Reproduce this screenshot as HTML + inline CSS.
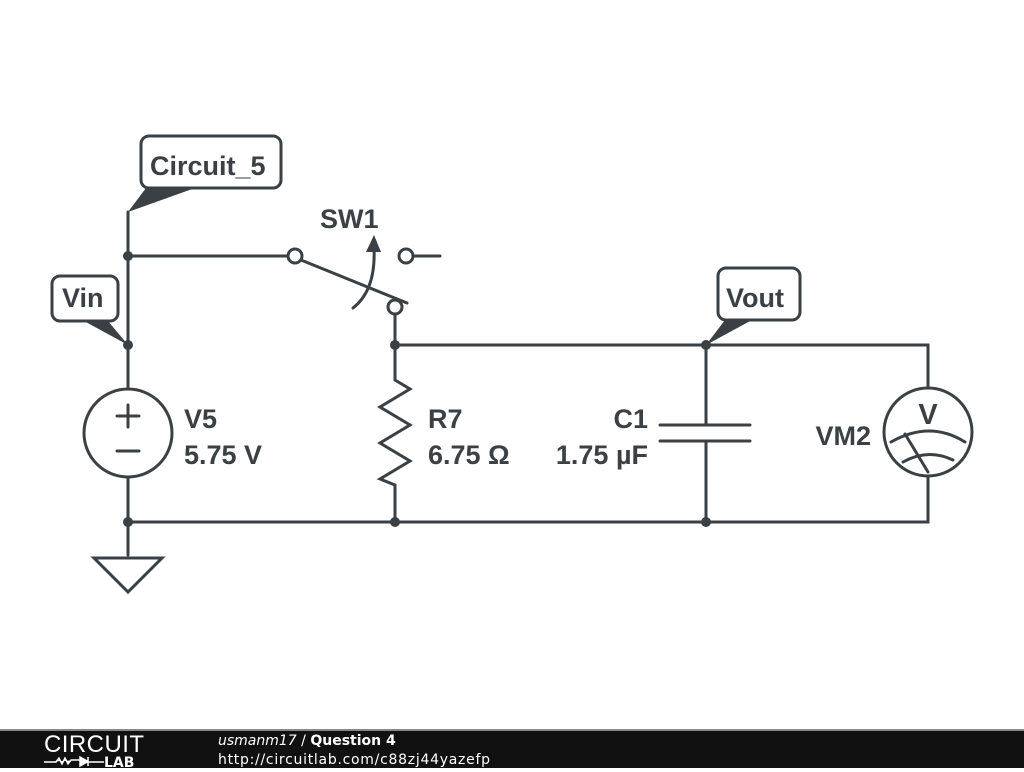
<!DOCTYPE html>
<html><head><style>
body{margin:0;width:1024px;height:768px;background:#fff;overflow:hidden;font-family:"DejaVu Sans","Liberation Sans",sans-serif}
</style></head><body>
<svg width="1024" height="768" viewBox="0 0 1024 768" xmlns="http://www.w3.org/2000/svg">
<g stroke="#3a4044" stroke-width="3" fill="none" stroke-linecap="round">
<path d="M128 212V389M128 477V555M128 256H288"/>
<circle cx="295" cy="256" r="7" fill="#fff"/>
<circle cx="406" cy="256" r="7" fill="#fff"/>
<path d="M413 256H440"/>
<path d="M301 260L407 303"/>
<circle cx="395" cy="307" r="7" fill="#fff"/>
<path d="M395 314V380L410 389L380 407L410 425L380 443L410 461L380 479L395 485V522"/>
<path d="M395 345H928V388M928 476V522H128"/>
<path d="M706 345V425M706 441V522M660 425H750M660 441H750"/>
<circle cx="128" cy="433" r="44"/>
<path d="M117 416H139M128 405V427M117 451H139"/>
<circle cx="928" cy="432" r="44"/>
<path d="M891 442Q930 420 965 442M903 462Q928 448 953 460M905 434L928 472"/>
<path d="M94 558H162L128 592Z"/>
<path d="M353 308Q376 290 374 248"/>
<path d="M149 136h124a8 8 0 0 1 8 8v36a8 8 0 0 1-8 8H149a8 8 0 0 1-8-8v-36a8 8 0 0 1 8-8z" fill="#fff"/>
<path d="M60 276h50a8 8 0 0 1 8 8v29a8 8 0 0 1-8 8H60a8 8 0 0 1-8-8v-29a8 8 0 0 1 8-8z" fill="#fff"/>
<path d="M726 268h66a8 8 0 0 1 8 8v36a8 8 0 0 1-8 8H726a8 8 0 0 1-8-8v-36a8 8 0 0 1 8-8z" fill="#fff"/>
</g>
<g fill="#3a4044">
<path d="M146 188L195 188L128 212Z"/>
<path d="M366 252L374 235L381 252Z"/>
<path d="M84 321L108 321L128 345Z"/>
<path d="M725 320L752 320L706 345Z"/>
<circle cx="128" cy="256" r="5"/><circle cx="128" cy="345" r="5"/>
<circle cx="395" cy="345" r="5"/><circle cx="706" cy="345" r="5"/>
<circle cx="128" cy="522" r="5"/><circle cx="395" cy="522" r="5"/><circle cx="706" cy="522" r="5"/>
</g>
<g fill="#3a4044" font-weight="bold" font-size="27" font-family="Liberation Sans, Arial, sans-serif">
<text x="150" y="175">Circuit_5</text>
<text x="62" y="307">Vin</text>
<text x="726" y="307">Vout</text>
<text x="320" y="228">SW1</text>
<text x="184" y="428">V5</text>
<text x="184" y="464">5.75 V</text>
<text x="428" y="428">R7</text>
<text x="428" y="464">6.75 Ω</text>
<text x="648" y="428" text-anchor="end">C1</text>
<text x="648" y="464" text-anchor="end">1.75 µF</text>
<text x="871" y="445" text-anchor="end">VM2</text>
<text x="928" y="424" text-anchor="middle" font-size="29">V</text>
</g>
<rect x="0" y="729" width="1024" height="39" fill="#111"/>
<rect x="0" y="729" width="1024" height="2" fill="#888"/>
<text x="44" y="752" fill="#fff" font-size="24" font-family="Liberation Sans" font-weight="300" textLength="100">CIRCUIT</text>
<path d="M44 762H56l3-4 3 6 3-6 3 6 3-4H80M80 757v9l8-4.5z M88 757v9M88 762H104" stroke="#fff" stroke-width="1.5" fill="#fff"/>
<text x="104" y="767" fill="#fff" font-size="14" font-weight="bold">LAB</text>
<text x="218" y="745" fill="#fff" font-size="14"><tspan font-style="italic">usmanm17</tspan> / <tspan font-weight="bold">Question 4</tspan></text>
<text x="218" y="764" fill="#fff" font-size="14" textLength="272">http://circuitlab.com/c88zj44yazefp</text>
</svg>
</body></html>
